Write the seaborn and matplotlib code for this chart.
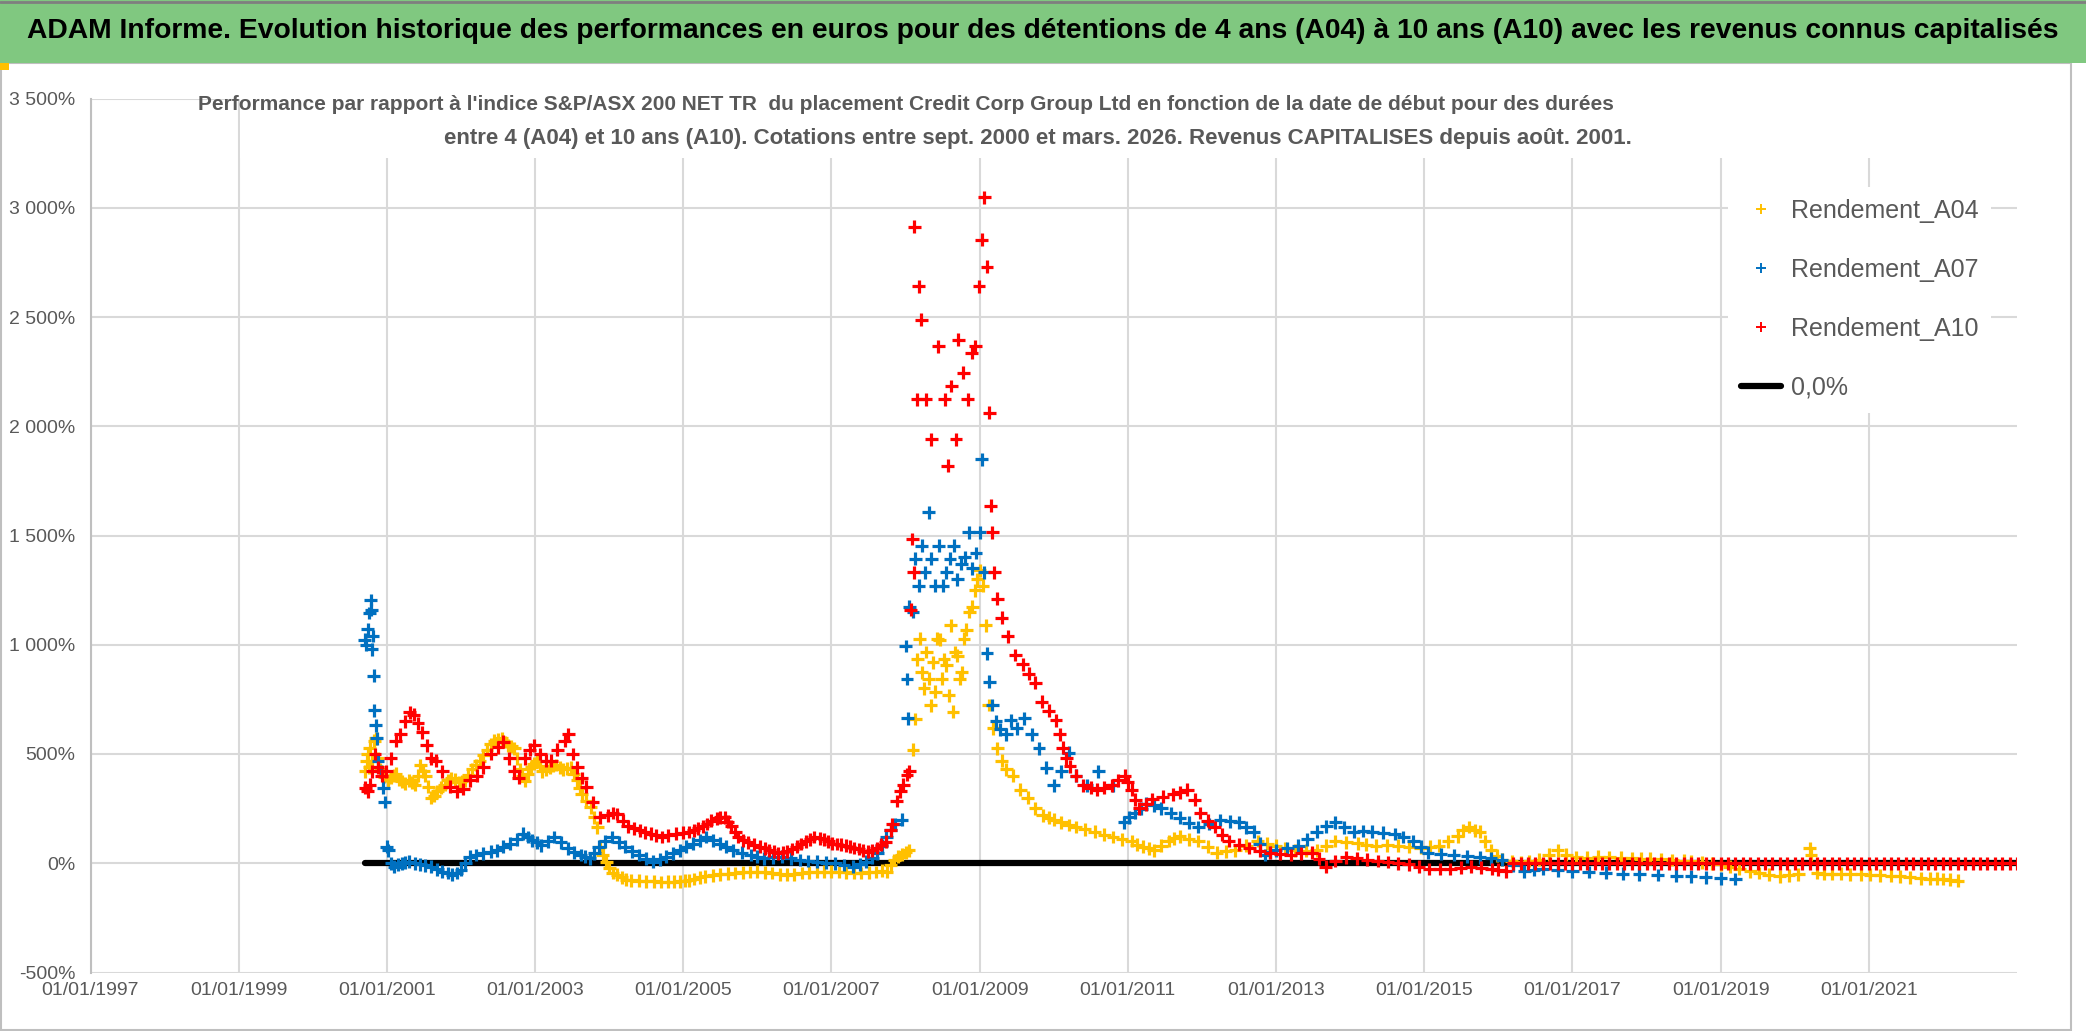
import numpy as np
import pandas as pd
import matplotlib
matplotlib.use("Agg")
import matplotlib.pyplot as plt
import seaborn as sns
from matplotlib.lines import Line2D
from matplotlib.patches import Rectangle
from matplotlib.ticker import FuncFormatter

# -----------------------------
# Data (date as fractional year, performance in %)
# -----------------------------
a04_annee = [2000.71, 2000.73, 2000.74, 2000.76, 2000.77, 2000.80, 2000.83, 2000.85, 2000.88, 2000.91,
             2000.93, 2000.96, 2000.98, 2001.02, 2001.05, 2001.09, 2001.12, 2001.16, 2001.20, 2001.25,
             2001.30, 2001.34, 2001.38, 2001.42, 2001.45, 2001.49, 2001.52, 2001.56, 2001.60, 2001.64,
             2001.68, 2001.73, 2001.78, 2001.82, 2001.87, 2001.92, 2001.97, 2002.01, 2002.05, 2002.10,
             2002.15, 2002.20, 2002.25, 2002.30, 2002.35, 2002.40, 2002.45, 2002.50, 2002.55, 2002.59,
             2002.63, 2002.68, 2002.72, 2002.76, 2002.80, 2002.83, 2002.86, 2002.90, 2002.95, 2002.98,
             2003.02, 2003.06, 2003.10, 2003.15, 2003.20, 2003.24, 2003.28, 2003.33, 2003.38, 2003.43,
             2003.48, 2003.52, 2003.57, 2003.60, 2003.63, 2003.69, 2003.75, 2003.80, 2003.84, 2003.87,
             2003.91, 2003.96, 2004.00, 2004.05, 2004.11, 2004.17, 2004.23, 2004.30, 2004.40, 2004.50,
             2004.60, 2004.70, 2004.80, 2004.88, 2004.95, 2005.02, 2005.08, 2005.15, 2005.22, 2005.30,
             2005.40, 2005.50, 2005.60, 2005.70, 2005.80, 2005.90, 2006.00, 2006.10, 2006.20, 2006.30,
             2006.40, 2006.50, 2006.60, 2006.70, 2006.80, 2006.90, 2007.00, 2007.10, 2007.20, 2007.30,
             2007.40, 2007.50, 2007.60, 2007.68, 2007.75, 2007.80, 2007.85, 2007.90, 2007.95, 2008.00,
             2008.04, 2008.10, 2008.13, 2008.16, 2008.19, 2008.22, 2008.25, 2008.28, 2008.31, 2008.34,
             2008.37, 2008.40, 2008.43, 2008.46, 2008.49, 2008.52, 2008.55, 2008.58, 2008.61, 2008.64,
             2008.67, 2008.70, 2008.73, 2008.76, 2008.79, 2008.82, 2008.86, 2008.90, 2008.94, 2008.97,
             2009.00, 2009.04, 2009.08, 2009.12, 2009.18, 2009.24, 2009.30, 2009.36, 2009.45, 2009.55,
             2009.65, 2009.75, 2009.85, 2009.93, 2010.00, 2010.10, 2010.20, 2010.30, 2010.42, 2010.55,
             2010.68, 2010.80, 2010.92, 2011.05, 2011.12, 2011.20, 2011.28, 2011.35, 2011.45, 2011.55,
             2011.62, 2011.70, 2011.82, 2011.95, 2012.08, 2012.20, 2012.32, 2012.45, 2012.60, 2012.75,
             2012.88, 2013.00, 2013.12, 2013.25, 2013.40, 2013.55, 2013.68, 2013.80, 2013.95, 2014.10,
             2014.22, 2014.35, 2014.50, 2014.65, 2014.80, 2014.95, 2015.08, 2015.20, 2015.32, 2015.45,
             2015.52, 2015.60, 2015.68, 2015.75, 2015.82, 2015.90, 2015.98, 2016.05, 2016.18, 2016.30,
             2016.42, 2016.55, 2016.68, 2016.80, 2016.92, 2017.05, 2017.20, 2017.35, 2017.50, 2017.65,
             2017.80, 2017.92, 2018.05, 2018.20, 2018.35, 2018.50, 2018.60, 2018.75, 2018.88, 2019.00,
             2019.12, 2019.25, 2019.40, 2019.52, 2019.65, 2019.80, 2019.92, 2020.05, 2020.20, 2020.22,
             2020.30, 2020.40, 2020.50, 2020.62, 2020.75, 2020.90, 2021.02, 2021.15, 2021.30, 2021.42,
             2021.55, 2021.70, 2021.82, 2021.92, 2022.00, 2022.10, 2022.20]
a04_rendement = [420, 470, 500, 440, 527, 470, 560, 572, 480, 430,
                 420, 395, 400, 380, 390, 400, 410, 385, 375, 365,
                 380, 370, 360, 400, 450, 420, 400, 350, 300, 310,
                 330, 345, 360, 380, 390, 385, 370, 375, 380, 405,
                 430, 450, 470, 495, 520, 545, 560, 565, 572, 555,
                 540, 535, 527, 480, 430, 400, 376, 410, 440, 455,
                 467, 445, 420, 430, 440, 445, 450, 440, 430, 435,
                 437, 410, 380, 345, 316, 285, 256, 210, 165, 75,
                 40, 8, -20, -45, -53, -65, -75, -78, -80, -82,
                 -83, -86, -85, -84, -83, -80, -78, -72, -65, -60,
                 -55, -50, -48, -45, -42, -40, -38, -42, -45, -50,
                 -53, -50, -45, -42, -40, -38, -38, -40, -42, -44,
                 -45, -42, -40, -35, -38, -10, 15, 30, 40, 50,
                 60, 520, 660, 934, 1028, 873, 800, 967, 845, 723,
                 920, 785, 1028, 1024, 845, 934, 906, 768, 1089, 693,
                 967, 949, 845, 873, 1028, 1069, 1150, 1175, 1250, 1300,
                 1340, 1271, 1089, 724, 617, 527, 470, 430, 400, 336,
                 300, 251, 220, 208, 200, 187, 175, 166, 155, 145,
                 130, 120, 110, 102, 85, 75, 68, 60, 80, 102,
                 115, 123, 110, 102, 75, 49, 55, 60, 80, 102,
                 90, 81, 70, 60, 58, 60, 80, 102, 95, 91,
                 85, 81, 82, 81, 75, 70, 75, 81, 100, 123,
                 150, 166, 150, 145, 100, 60, 35, 17, 10, 6,
                 10, 17, 40, 60, 40, 28, 25, 30, 28, 25,
                 22, 20, 21, 18, 15, 12, 10, 5, 0, -4,
                 -15, -25, -36, -45, -52, -60, -55, -50, 70, 40,
                 -45, -47, -47, -48, -50, -50, -52, -55, -57, -60,
                 -65, -68, -70, -71, -72, -75, -79]

a07_annee = [2000.70, 2000.72, 2000.74, 2000.76, 2000.78, 2000.79, 2000.80, 2000.81, 2000.82, 2000.83,
             2000.85, 2000.86, 2000.88, 2000.92, 2000.95, 2000.97, 2001.00, 2001.02, 2001.06, 2001.10,
             2001.15, 2001.20, 2001.25, 2001.30, 2001.38, 2001.45, 2001.52, 2001.60, 2001.68, 2001.75,
             2001.82, 2001.88, 2001.94, 2002.00, 2002.06, 2002.12, 2002.20, 2002.30, 2002.40, 2002.48,
             2002.57, 2002.66, 2002.75, 2002.84, 2002.90, 2002.96, 2003.02, 2003.08, 2003.17, 2003.26,
             2003.35, 2003.44, 2003.53, 2003.62, 2003.68, 2003.74, 2003.80, 2003.86, 2003.95, 2004.04,
             2004.13, 2004.22, 2004.31, 2004.40, 2004.50, 2004.59, 2004.68, 2004.77, 2004.86, 2004.95,
             2005.04, 2005.13, 2005.22, 2005.31, 2005.40, 2005.49, 2005.58, 2005.67, 2005.79, 2005.91,
             2006.00, 2006.09, 2006.21, 2006.33, 2006.45, 2006.57, 2006.69, 2006.81, 2006.93, 2007.05,
             2007.17, 2007.29, 2007.38, 2007.47, 2007.55, 2007.62, 2007.68, 2007.74, 2007.80, 2007.86,
             2007.95, 2008.00, 2008.02, 2008.03, 2008.05, 2008.10, 2008.13, 2008.18, 2008.22, 2008.26,
             2008.31, 2008.35, 2008.40, 2008.45, 2008.50, 2008.55, 2008.60, 2008.65, 2008.70, 2008.75,
             2008.80, 2008.85, 2008.90, 2008.95, 2009.00, 2009.03, 2009.06, 2009.10, 2009.13, 2009.17,
             2009.22, 2009.28, 2009.36, 2009.42, 2009.50, 2009.60, 2009.70, 2009.80, 2009.90, 2010.00,
             2010.10, 2010.20, 2010.30, 2010.45, 2010.60, 2010.80, 2010.95, 2011.02, 2011.10, 2011.18,
             2011.25, 2011.35, 2011.45, 2011.58, 2011.70, 2011.82, 2011.95, 2012.10, 2012.25, 2012.38,
             2012.50, 2012.60, 2012.70, 2012.78, 2012.85, 2012.92, 2013.00, 2013.15, 2013.30, 2013.42,
             2013.55, 2013.68, 2013.80, 2013.92, 2014.05, 2014.18, 2014.30, 2014.45, 2014.60, 2014.72,
             2014.85, 2014.95, 2015.05, 2015.22, 2015.40, 2015.58, 2015.75, 2015.90, 2016.05, 2016.20,
             2016.35, 2016.48, 2016.60, 2016.80, 2017.00, 2017.22, 2017.45, 2017.68, 2017.90, 2018.15,
             2018.40, 2018.60, 2018.80, 2019.00, 2019.20]
a07_rendement = [1024, 1000, 1070, 1145, 1205, 1160, 980, 1040, 858, 700,
                 632, 572, 467, 420, 346, 280, 75, 60, 0, -15,
                 -5, 0, 5, 8, 0, -5, -10, -15, -28, -38,
                 -45, -53, -45, -30, 0, 30, 38, 45, 52, 60,
                 75, 90, 110, 135, 120, 105, 95, 83, 100, 120,
                 95, 68, 50, 38, 30, 23, 45, 75, 100, 120,
                 95, 75, 55, 38, 20, 8, 18, 30, 45, 60,
                 75, 90, 105, 120, 105, 90, 75, 60, 48, 38,
                 30, 23, 28, 30, 22, 15, 10, 8, 3, 0,
                 -8, -15, -5, 8, 25, 45, 80, 120, 150, 180,
                 200, 994, 843, 663, 1175, 1150, 1393, 1271, 1454, 1332,
                 1606, 1393, 1271, 1454, 1271, 1332, 1393, 1454, 1300, 1370,
                 1400, 1515, 1350, 1420, 1515, 1849, 1332, 960, 830, 724,
                 650, 613, 590, 655, 617, 663, 590, 527, 437, 357,
                 421, 506, 400, 357, 421, 357, 187, 210, 230, 250,
                 272, 265, 251, 230, 208, 185, 166, 180, 198, 192,
                 187, 165, 145, 90, 38, 50, 60, 70, 81, 110,
                 145, 170, 187, 165, 145, 148, 145, 140, 134, 120,
                 102, 75, 49, 42, 38, 32, 28, 22, 17, -10,
                 -36, -30, -26, -32, -36, -40, -43, -47, -51, -54,
                 -57, -60, -65, -68, -72]

a10_annee = [2000.71, 2000.74, 2000.77, 2000.80, 2000.84, 2000.88, 2000.93, 2000.99, 2001.05, 2001.12,
             2001.18, 2001.25, 2001.31, 2001.36, 2001.42, 2001.48, 2001.54, 2001.60, 2001.66, 2001.75,
             2001.85, 2001.94, 2002.03, 2002.12, 2002.21, 2002.30, 2002.40, 2002.50, 2002.57, 2002.65,
             2002.72, 2002.78, 2002.86, 2002.93, 2002.99, 2003.07, 2003.15, 2003.22, 2003.30, 2003.40,
             2003.45, 2003.51, 2003.57, 2003.63, 2003.69, 2003.78, 2003.87, 2003.98, 2004.05, 2004.11,
             2004.18, 2004.25, 2004.33, 2004.41, 2004.48, 2004.56, 2004.63, 2004.71, 2004.80, 2004.90,
             2005.00, 2005.08, 2005.14, 2005.20, 2005.26, 2005.32, 2005.38, 2005.45, 2005.50, 2005.56,
             2005.60, 2005.65, 2005.70, 2005.74, 2005.81, 2005.88, 2005.96, 2006.04, 2006.10, 2006.16,
             2006.22, 2006.28, 2006.34, 2006.40, 2006.47, 2006.53, 2006.59, 2006.65, 2006.71, 2006.77,
             2006.84, 2006.90, 2006.96, 2007.01, 2007.07, 2007.13, 2007.19, 2007.25, 2007.31, 2007.37,
             2007.43, 2007.49, 2007.55, 2007.61, 2007.67, 2007.73, 2007.80, 2007.82, 2007.88, 2007.93,
             2007.97, 2008.02, 2008.05, 2008.07, 2008.09, 2008.11, 2008.12, 2008.16, 2008.18, 2008.21,
             2008.27, 2008.35, 2008.44, 2008.53, 2008.57, 2008.62, 2008.68, 2008.71, 2008.78, 2008.84,
             2008.89, 2008.94, 2008.99, 2009.03, 2009.06, 2009.10, 2009.13, 2009.15, 2009.17, 2009.20,
             2009.24, 2009.30, 2009.38, 2009.48, 2009.58, 2009.66, 2009.75, 2009.84, 2009.93, 2010.03,
             2010.08, 2010.12, 2010.17, 2010.22, 2010.30, 2010.40, 2010.50, 2010.59, 2010.68, 2010.78,
             2010.87, 2010.96, 2011.00, 2011.05, 2011.10, 2011.15, 2011.24, 2011.33, 2011.47, 2011.61,
             2011.70, 2011.80, 2011.90, 2011.98, 2012.08, 2012.17, 2012.27, 2012.36, 2012.50, 2012.64,
             2012.78, 2012.92, 2013.06, 2013.20, 2013.34, 2013.48, 2013.58, 2013.67, 2013.80, 2013.95,
             2014.09, 2014.23, 2014.37, 2014.51, 2014.65, 2014.79, 2014.93, 2015.07, 2015.21, 2015.35,
             2015.49, 2015.63, 2015.77, 2015.91, 2016.00, 2016.10,
             2016.2, 2016.3, 2016.4, 2016.5, 2016.6, 2016.7, 2016.8, 2016.9, 2017.0, 2017.1,
             2017.2, 2017.3, 2017.4, 2017.5, 2017.6, 2017.7, 2017.8, 2017.9, 2018.0, 2018.1,
             2018.2, 2018.3, 2018.4, 2018.5, 2018.6, 2018.7, 2018.8, 2018.9, 2019.0, 2019.1,
             2019.2, 2019.3, 2019.4, 2019.5, 2019.6, 2019.7, 2019.8, 2019.9, 2020.0, 2020.1,
             2020.2, 2020.3, 2020.4, 2020.5, 2020.6, 2020.7, 2020.8, 2020.9, 2021.0, 2021.1,
             2021.2, 2021.3, 2021.4, 2021.5, 2021.6, 2021.7, 2021.8, 2021.9, 2022.0, 2022.1,
             2022.2, 2022.3, 2022.4, 2022.5, 2022.6, 2022.7, 2022.8, 2022.9, 2023.0]
a10_rendement = [346, 330, 360, 420, 500, 440, 400, 420, 480, 560,
                 590, 650, 690, 680, 640, 600, 540, 480, 470, 420,
                 350, 330, 340, 380, 400, 440, 500, 530, 557, 480,
                 420, 390, 480, 520, 540, 500, 470, 470, 520, 560,
                 590, 500, 440, 390, 350, 280, 210, 220, 230, 225,
                 195, 170, 160, 150, 142, 135, 128, 120, 128, 135,
                 140, 143, 150, 160, 170, 180, 195, 205, 210, 210,
                 190, 170, 145, 120, 105, 95, 85, 75, 68, 60,
                 52, 45, 50, 55, 65, 75, 88, 100, 110, 120,
                 115, 110, 100, 90, 88, 85, 80, 75, 70, 65,
                 58, 53, 60, 70, 85, 98, 150, 180, 285, 330,
                 360, 405, 420, 1160, 1484, 1332, 2914, 2123, 2640, 2488,
                 2123, 1940, 2366, 2123, 1819, 2184, 1940, 2397, 2245, 2123,
                 2336, 2366, 2640, 2853, 3047, 2731, 2062, 1636, 1515, 1332,
                 1210, 1124, 1038, 953, 911, 868, 826, 740, 698, 655,
                 590, 528, 480, 443, 400, 357, 345, 336, 345, 357,
                 380, 400, 370, 336, 290, 251, 270, 294, 305, 315,
                 325, 336, 290, 230, 195, 166, 130, 102, 85, 70,
                 58, 49, 42, 38, 45, 49, 20, -15, 10, 28,
                 22, 17, 10, 6, 0, -4, -15, -26, -26, -26,
                 -20, -15, -20, -26, -30, -36,
                 0, 0, 0, 0, 0, 0, 0, 0, 0, 0,
                 0, 0, 0, 0, 0, 0, 0, 0, 0, 0,
                 0, 0, 0, 0, 0, 0, 0, 0, 0, 0,
                 0, 0, 0, 0, 0, 0, 0, 0, 0, 0,
                 0, 0, 0, 0, 0, 0, 0, 0, 0, 0,
                 0, 0, 0, 0, 0, 0, 0, 0, 0, 0,
                 0, 0, 0, 0, 0, 0, 0, 0, 0]

zero_annee = [2000.71, 2023.00]
zero_rendement = [0.0, 0.0]

series_names = ["Rendement_A04", "Rendement_A07", "Rendement_A10"]
series_colors = ["#FFC000", "#0070C0", "#FF0000"]
year_ticks = list(range(1997, 2022, 2))
y_ticks = list(range(-500, 3501, 500))

titre = ("ADAM Informe. Evolution historique des performances en euros pour des détentions "
         "de 4 ans (A04) à 10 ans (A10) avec les revenus connus capitalisés")
sous_titre_1 = ("Performance par rapport à l'indice S&P/ASX 200 NET TR  du placement Credit Corp Group Ltd "
                "en fonction de la date de début pour des durées")
sous_titre_2 = ("entre 4 (A04) et 10 ans (A10). Cotations entre sept. 2000 et mars. 2026. "
                "Revenus CAPITALISES depuis août. 2001.")

# -----------------------------
# Long-form table
# -----------------------------
df = pd.concat([
    pd.DataFrame({"annee": a04_annee, "rendement": a04_rendement, "serie": series_names[0]}),
    pd.DataFrame({"annee": a07_annee, "rendement": a07_rendement, "serie": series_names[1]}),
    pd.DataFrame({"annee": a10_annee, "rendement": a10_rendement, "serie": series_names[2]}),
], ignore_index=True)
palette = dict(zip(series_names, series_colors))

# -----------------------------
# Figure
# -----------------------------
sns.set_theme(style="white")
plt.rcParams['font.family'] = ['Liberation Sans', 'DejaVu Sans']

W, H = 2086, 1031
fig = plt.figure(figsize=(W / 100, H / 100), dpi=100)
fig.patch.set_facecolor("white")
ax = fig.add_axes([90.5 / W, 1 - 972.5 / H, (2017 - 90.5) / W, (972.5 - 98.5) / H])

sns.lineplot(x=zero_annee, y=zero_rendement, color="black", linewidth=4.5, ax=ax, zorder=2)
sns.scatterplot(data=df, x="annee", y="rendement", hue="serie", palette=palette,
                marker="+", s=85, linewidth=2.3, legend=False, ax=ax, zorder=3)

ax.set_xlim(1997, 2023)
ax.set_ylim(-500, 3500)
ax.set_xticks(year_ticks)
ax.set_xticklabels([f"01/01/{y}" for y in year_ticks])
ax.set_yticks(y_ticks)
ax.yaxis.set_major_formatter(FuncFormatter(lambda v, p: f"{v:,.0f}".replace(",", " ") + "%"))
ax.set_xlabel("")
ax.set_ylabel("")
ax.grid(True, color="#D9D9D9", linewidth=1.5)
ax.set_axisbelow(True)
for side in ["top", "right", "bottom"]:
    ax.spines[side].set_visible(False)
ax.spines["left"].set_color("#BFBFBF")
ax.spines["left"].set_linewidth(1.5)
ax.tick_params(axis="both", length=0, labelcolor="#595959", labelsize=14)
ax.tick_params(axis="x", pad=7)
ax.tick_params(axis="y", pad=11)

# legend
handles = [Line2D([], [], linestyle="none", marker="+", color=c, markersize=7, markeredgewidth=1.4)
           for c in series_colors]
handles.append(Line2D([], [], color="black", linewidth=4.5))
leg = ax.legend(handles, series_names + ["0,0%"], loc="upper left",
                bbox_to_anchor=((1716 - 90.5) / (2017 - 90.5), (972.5 - 174) / 874),
                frameon=True, facecolor="white", edgecolor="none", framealpha=1,
                fontsize=18, labelcolor="#595959", labelspacing=1.4,
                handlelength=1.6, handletextpad=0.4, borderpad=0.5)
leg.set_zorder(10)

# white band behind the subtitle
fig.add_artist(Rectangle((240 / W, 1 - 158 / H), (2030 - 240) / W, (158 - 70) / H,
                         transform=fig.transFigure, facecolor="white", edgecolor="none", zorder=5))
fig.text(906 / W, 1 - 104 / H, sous_titre_1, ha="center", va="center", fontsize=15,
         fontweight="bold", color="#595959", zorder=6)
fig.text(1038 / W, 1 - 139 / H, sous_titre_2, ha="center", va="center", fontsize=16,
         fontweight="bold", color="#595959", zorder=6)

# green banner with the main title
fig.add_artist(Rectangle((0, 1 - 63 / H), 1, 63 / H, transform=fig.transFigure,
                         facecolor="#80C880", edgecolor="none", zorder=5))
fig.add_artist(Line2D([0, 1], [1 - 1.5 / H, 1 - 1.5 / H], transform=fig.transFigure,
                      color="#7F7F7F", linewidth=2, zorder=6))
fig.add_artist(Rectangle((0, 1 - 70 / H), 9 / W, 7 / H, transform=fig.transFigure,
                         facecolor="#FFC000", edgecolor="none", zorder=6))
fig.text(0.5, 1 - 31 / H, titre, ha="center", va="center", fontsize=20.3,
         fontweight="bold", color="black", zorder=7)

# chart border
fig.add_artist(Rectangle((1 / W, 1 / H), (2071 - 1) / W, (1031 - 64) / H, transform=fig.transFigure,
                         facecolor="none", edgecolor="#BFBFBF", linewidth=1.5, zorder=4))

fig.savefig("out.png", dpi=100)
